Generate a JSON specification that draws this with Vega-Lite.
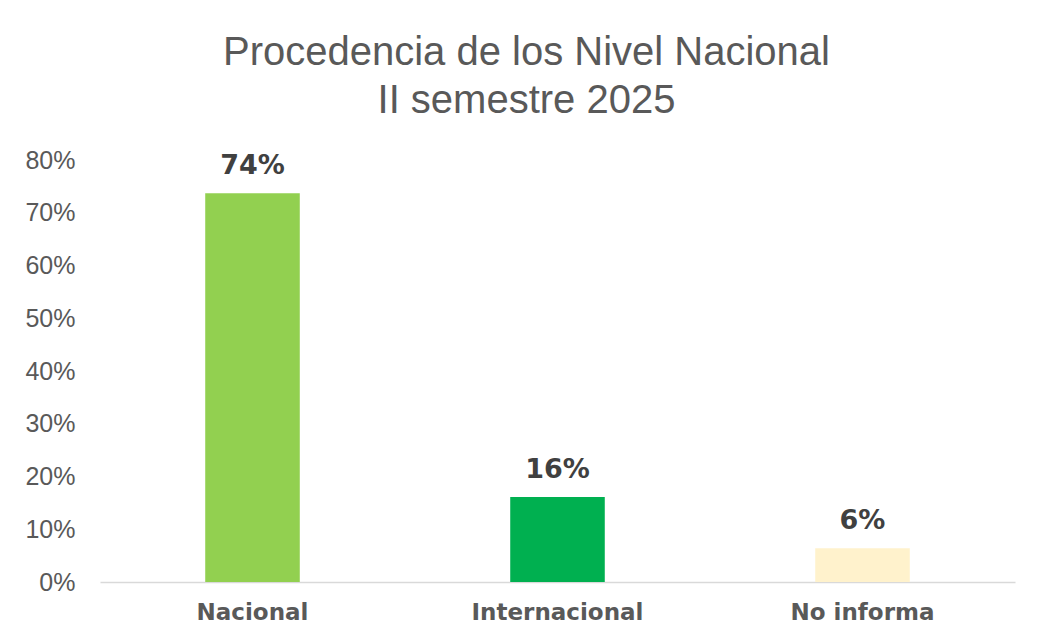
{
  "$schema": "https://vega.github.io/schema/vega-lite/v6.json",
  "autosize": "none",
  "width": 915,
  "height": 422,
  "padding": {"left": 100, "top": 160, "right": 30, "bottom": 60},
  "background": "white",
  "title": {
    "text": ["Procedencia de los Nivel Nacional", "II semestre 2025"],
    "font": "Liberation Sans",
    "fontSize": 40,
    "fontWeight": "normal",
    "color": "#595959",
    "lineHeight": 48,
    "anchor": "middle",
    "frame": "group",
    "dx": -31,
    "offset": 27
  },
  "data": {
    "values": [
      {"categoria": "Nacional", "valor": 0.737, "etiqueta": "74%", "color": "#92D050"},
      {"categoria": "Internacional", "valor": 0.161, "etiqueta": "16%", "color": "#00B050"},
      {"categoria": "No informa", "valor": 0.064, "etiqueta": "6%", "color": "#FFF2CC"}
    ]
  },
  "encoding": {
    "x": {
      "field": "categoria",
      "type": "nominal",
      "sort": null,
      "title": null,
      "scale": {"paddingInner": 0.69, "paddingOuter": 0.345},
      "axis": {
        "labelAngle": 0,
        "labelFont": "DejaVu Sans",
        "labelFontWeight": "bold",
        "labelFontSize": 23,
        "labelColor": "#595959",
        "labelPadding": 19,
        "ticks": false,
        "domainColor": "#d9d9d9",
        "domainWidth": 1.5
      }
    },
    "y": {
      "field": "valor",
      "type": "quantitative",
      "title": null,
      "scale": {"domain": [0, 0.8]},
      "axis": {
        "values": [0, 0.1, 0.2, 0.3, 0.4, 0.5, 0.6, 0.7, 0.8],
        "format": ".0%",
        "labelFont": "Liberation Sans",
        "labelFontSize": 25,
        "labelColor": "#595959",
        "labelPadding": 25,
        "domain": false,
        "ticks": false,
        "grid": false
      }
    }
  },
  "layer": [
    {
      "mark": {"type": "bar"},
      "encoding": {
        "color": {"field": "color", "type": "nominal", "scale": null}
      }
    },
    {
      "mark": {
        "type": "text",
        "baseline": "bottom",
        "dy": -13,
        "font": "DejaVu Sans",
        "fontWeight": "bold",
        "fontSize": 27,
        "color": "#404040"
      },
      "encoding": {
        "text": {"field": "etiqueta", "type": "nominal"}
      }
    }
  ],
  "config": {"view": {"stroke": null}}
}
